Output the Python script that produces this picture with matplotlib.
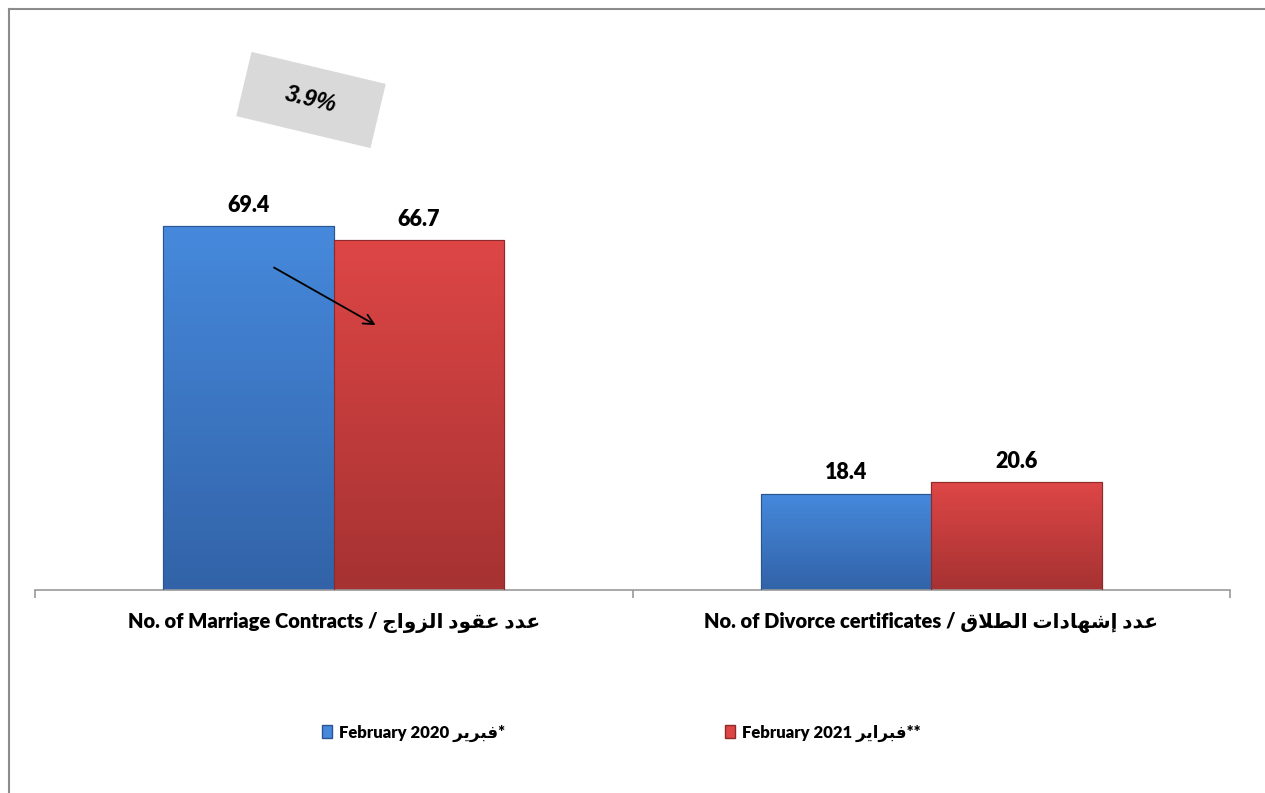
import matplotlib
matplotlib.use("Agg")
import matplotlib.pyplot as plt
from matplotlib.colors import LinearSegmentedColormap
from matplotlib.patches import Patch, Rectangle
from matplotlib.lines import Line2D
import numpy as np

# Arabic parts are written as presentation forms in visual order (no shaping engine here)
AR_MARRIAGE = "\uFE9D\uFE8D\uFEED\uFEB0\uFEDF\uFE8D \uFEA9\uFEEE\uFED8\uFECB \uFEA9\uFEAA\uFECB"
AR_DIVORCE = ("\uFED5\uFEFC\uFEC4\uFEDF\uFE8D \uFE95\uFE8D\uFEA9\uFE8E\uFEEC\uFEB7\uFE87 "
              "\uFEA9\uFEAA\uFECB")
AR_FEB_2020 = "\uFEAE\uFEF3\uFEAE\uFE92\uFED3"
AR_FEB_2021 = "\uFEAE\uFEF3\uFE8D\uFEAE\uFE92\uFED3"

categories = ["No. of Marriage Contracts / " + AR_MARRIAGE,
              "No. of Divorce certificates / " + AR_DIVORCE]
series_names = ["February 2020 " + AR_FEB_2020 + "*",
                "February 2021 " + AR_FEB_2021 + "**"]
feb_2020 = [69.4, 18.4]
feb_2021 = [66.7, 20.6]
change_label = "3.9%"

FONT = ["Lato", "DejaVu Sans"]
WEIGHT = 800
colors_top = ["#4689DC", "#DE4646"]
colors_bottom = ["#3263A8", "#A63232"]
edges = ["#2A5590", "#8E2A2A"]

fig = plt.figure(figsize=(12.65, 7.93), dpi=100)
ax = fig.add_axes([35 / 1265, 1 - 590 / 793, 1195 / 1265, 524 / 793])

x = np.arange(len(categories))
w = 0.285
for i, (vals, off) in enumerate([(feb_2020, -w / 2), (feb_2021, w / 2)]):
    bars = ax.bar(x + off, vals, width=w, color=colors_top[i], edgecolor=edges[i],
                  linewidth=0.8, zorder=2)
    cmap = LinearSegmentedColormap.from_list("g%d" % i, [colors_bottom[i], colors_top[i]])
    for b in bars:
        x0, y0 = b.get_x(), b.get_y()
        grad = np.linspace(1, 0, 100).reshape(-1, 1)
        im = ax.imshow(grad, extent=[x0, x0 + b.get_width(), y0, y0 + b.get_height()],
                       cmap=cmap, aspect="auto", zorder=2.5, vmin=0, vmax=1)
        im.set_clip_path(b)
        ax.bar(b.get_x() + b.get_width() / 2, b.get_height(), width=b.get_width(),
               facecolor="none", edgecolor=edges[i], linewidth=0.8, zorder=3)
        ax.text(b.get_x() + b.get_width() / 2, b.get_height() + 2.0, f"{b.get_height():.1f}",
                ha="center", va="bottom", fontsize=15.5, fontweight=WEIGHT, family=FONT)

ax.set_xlim(-0.5, 1.5)
ax.set_ylim(0, 100)
for s in ["top", "right", "left"]:
    ax.spines[s].set_visible(False)
ax.spines["bottom"].set_color("#9A9A9A")
ax.spines["bottom"].set_linewidth(1.2)
ax.set_yticks([])
ax.set_xticks([-0.5, 0.5, 1.5])
ax.set_xticklabels([])
ax.tick_params(axis="x", length=6, width=1.2, color="#9A9A9A")
ax.set_xticks(x, minor=True)
ax.set_xticklabels(categories, minor=True, fontsize=14.5, fontweight=WEIGHT, family=FONT)
ax.tick_params(axis="x", which="minor", length=0, pad=16)

# change arrow and rotated percentage box
ax.annotate("", xy=(0.074, 50.3), xytext=(-0.104, 61.8),
            arrowprops=dict(arrowstyle="->", color="black", lw=1.3, mutation_scale=18),
            zorder=5)
cx, cy = 311 / 100, (793 - 100) / 100
box = Rectangle((cx - 0.69, cy - 0.33), 1.38, 0.66, angle=-13.4, rotation_point="center",
                transform=fig.dpi_scale_trans, facecolor="#D9D9D9", edgecolor="none")
fig.patches.append(box)
fig.text(cx / 12.65, cy / 7.93, change_label, rotation=-13.4, ha="center", va="center",
         fontsize=16.5, fontweight="bold", fontstyle="italic", family="Liberation Sans",
         rotation_mode="anchor")

handles = [Patch(facecolor=colors_top[0], edgecolor=edges[0]),
           Patch(facecolor=colors_top[1], edgecolor=edges[1])]
fig.legend(handles, series_names, loc="center", bbox_to_anchor=(621.5 / 1265, 1 - 733 / 793),
           ncol=2, frameon=False, handlelength=0.6, handleheight=0.8, handletextpad=0.4,
           columnspacing=13.2, prop={"family": FONT, "weight": WEIGHT, "size": 12})

# outer frame (chart area border, cropped on right and bottom)
fig.add_artist(Line2D([9 / 1265, 9 / 1265], [0, 1 - 9 / 793], color="#8C8C8C", lw=1.5,
                      transform=fig.transFigure))
fig.add_artist(Line2D([9 / 1265, 1], [1 - 9 / 793, 1 - 9 / 793], color="#8C8C8C", lw=1.5,
                      transform=fig.transFigure))

fig.savefig("out.png", dpi=100)
